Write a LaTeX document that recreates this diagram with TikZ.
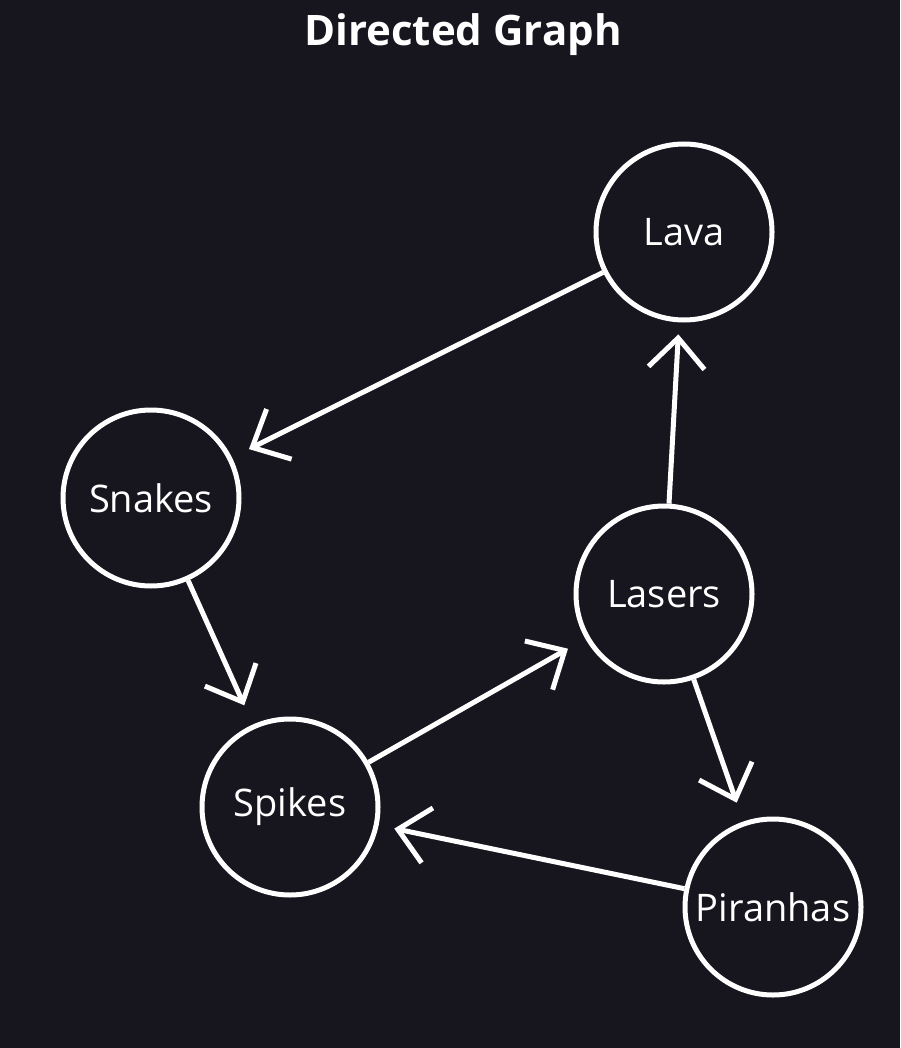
\documentclass[tikz,border=0pt]{standalone}
\usepackage{fontspec}
\setmainfont{Open Sans}
\usetikzlibrary{arrows.meta}
\definecolor{bg}{HTML}{17161F}
\tikzset{
  gnode/.style={circle, draw=white, line width=5pt, minimum size=176pt, inner sep=0pt, text=white, font=\fontsize{38}{44}\selectfont},
  garrow/.style={draw=white, line width=5pt, -{Straight Barb[length=30pt, width=56pt, line width=5pt]}}
}
\begin{document}
\begin{tikzpicture}[x=1pt, y=-1pt]
\fill[bg] (0,0) rectangle (900,1048);
\useasboundingbox (0,0) rectangle (900,1048);
\node[text=white, font=\bfseries\fontsize{42}{48}\selectfont] (title) at (463,35) {Directed Graph};
\node[gnode] (lava) at (684,232) {Lava};
\node[gnode] (snakes) at (151,498) {Snakes};
\node[gnode] (lasers) at (664,594) {Lasers};
\node[gnode] (spikes) at (290,807) {Spikes};
\node[gnode] (piranhas) at (773,907) {Piranhas};
\draw[garrow, shorten >=19pt] (lava) -- (snakes);
\draw[garrow, shorten >=12pt] (lasers) -- (lava);
\draw[garrow, shorten >=21pt] (snakes) -- (spikes);
\draw[garrow, shorten >=20pt] (spikes) -- (lasers);
\draw[garrow, shorten >=20pt] (lasers) -- (piranhas);
\draw[garrow, shorten >=16pt] (piranhas) -- (spikes);
\end{tikzpicture}
\end{document}
